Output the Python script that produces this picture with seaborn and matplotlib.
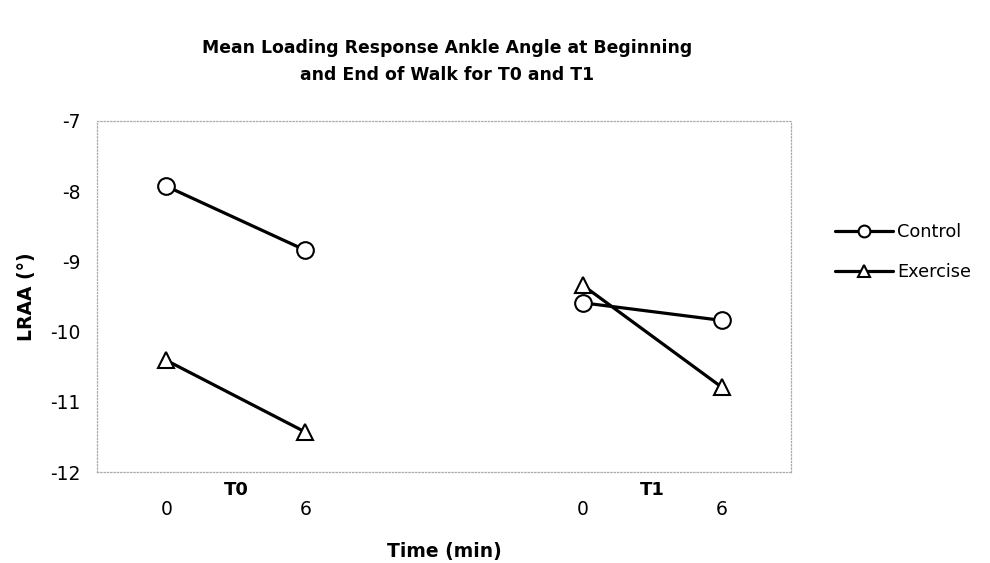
import pandas as pd
import numpy as np
import matplotlib
matplotlib.use("Agg")
import matplotlib.pyplot as plt
from matplotlib.lines import Line2D
import seaborn as sns

# data
groups = ["Control", "Exercise"]
periods = ["T0", "T1"]
times = [0, 6]
control_t0 = [-7.93, -8.84]
control_t1 = [-9.59, -9.84]
exercise_t0 = [-10.41, -11.43]
exercise_t1 = [-9.34, -10.79]

values = {("Control", "T0"): control_t0, ("Control", "T1"): control_t1,
          ("Exercise", "T0"): exercise_t0, ("Exercise", "T1"): exercise_t1}

rows = []
for g in groups:
    for pi, p in enumerate(periods):
        for ti, t in enumerate(times):
            # category axis: 0, 6, (gap), 0, 6
            rows.append({"group": g, "period": p, "time": t,
                         "pos": pi * 3 + ti, "LRAA": values[(g, p)][ti]})
df = pd.DataFrame(rows)

sns.set_style("white")
plt.rcParams["font.family"] = ["DejaVu Sans"]
plt.rcParams["text.color"] = "black"
plt.rcParams["xtick.color"] = "black"
plt.rcParams["ytick.color"] = "black"
plt.rcParams["axes.labelcolor"] = "black"

fig = plt.figure(figsize=(9.9, 5.63), dpi=100)
ax = fig.add_axes([0.098, 0.1616, 0.701, 0.6235])

markers = {"Control": "o", "Exercise": "^"}
sns.lineplot(data=df, x="pos", y="LRAA", hue="group", style="group", units="period",
             estimator=None, markers=markers, dashes=False,
             palette={"Control": "black", "Exercise": "black"},
             markersize=12, markerfacecolor="white", markeredgecolor="black",
             markeredgewidth=1.5, linewidth=2.3, legend=False, ax=ax, zorder=3)

ax.set_xlim(-0.5, 4.5)
ax.set_ylim(-12, -7)
ax.set_yticks([-12, -11, -10, -9, -8, -7])
ax.set_yticklabels(["-12", "-11", "-10", "-9", "-8", "-7"])
ax.set_xticks([0, 1, 3, 4])
ax.set_xticklabels([str(times[0]), str(times[1]), str(times[0]), str(times[1])])
ax.tick_params(axis="x", length=0, pad=20, labelsize=13.5)
ax.tick_params(axis="y", length=0, pad=12, labelsize=13.5)

for s in ax.spines.values():
    s.set_visible(True)
    s.set_linestyle(":")
    s.set_color("#aaaaaa")
    s.set_linewidth(0.9)

# period labels under the axis
for pi, p in enumerate(periods):
    ax.text(pi * 3 + 0.5, -0.05, p, transform=ax.get_xaxis_transform(),
            ha="center", va="center", fontsize=13, fontweight="bold")

ax.set_xlabel("Time (min)", fontsize=13.5, fontweight="bold")
ax.xaxis.set_label_coords(0.5, -0.2)
ax.set_ylabel("LRAA (°)", fontsize=13.5, fontweight="bold")
ax.yaxis.set_label_coords(-0.088, 0.5)

fig.text(0.4515, 0.891, "Mean Loading Response Ankle Angle at Beginning\nand End of Walk for T0 and T1",
         ha="center", va="center", fontsize=12.4, fontweight="bold", linespacing=1.6)

handles = [Line2D([], [], color="black", lw=2.3, marker=markers[g], markersize=8.5,
                  markerfacecolor="white", markeredgecolor="black", markeredgewidth=1.5)
           for g in groups]
fig.legend(handles, groups, loc="upper left", bbox_to_anchor=(0.834, 0.62),
           frameon=False, fontsize=12.8, handlelength=3.3, handletextpad=0.2,
           labelspacing=1.25, borderpad=0, numpoints=1)

fig.savefig("out.png", dpi=100)
